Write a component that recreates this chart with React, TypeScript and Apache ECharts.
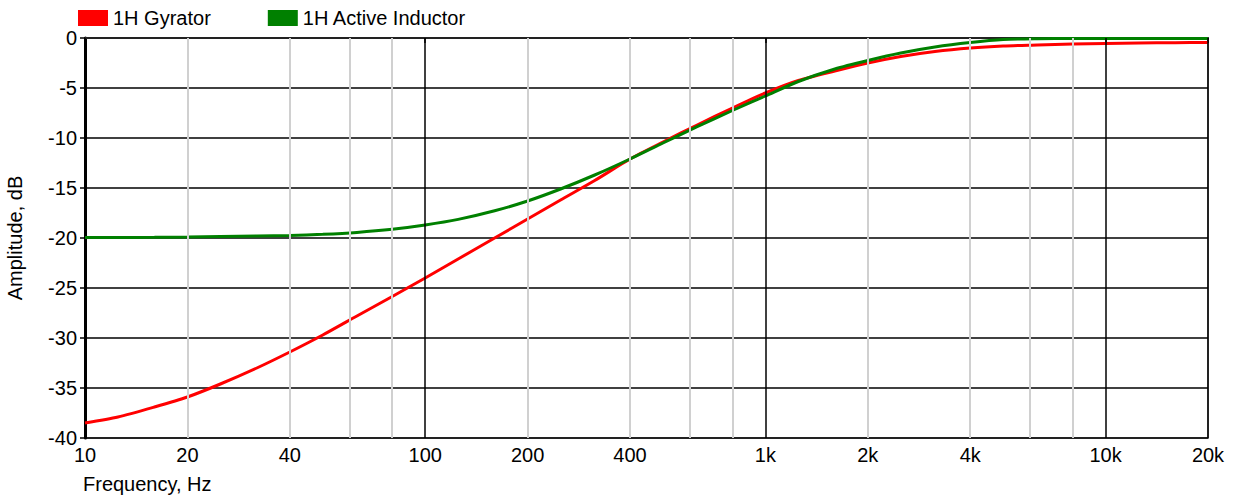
import React, { useEffect, useRef } from "react";
import * as echarts from "echarts";

const FREQ = [10, 12.5, 16, 20, 25, 32, 40, 50, 63, 80, 100, 125, 160, 200, 250, 315, 400, 500, 630, 800, 1000, 1250, 1600, 2000, 2500, 3150, 4000, 5000, 6300, 8000, 10000, 12500, 16000, 20000];
const GYRATOR = [-38.5, -37.9, -36.9, -35.9, -34.6, -33.0, -31.4, -29.7, -27.8, -25.85, -24.0, -22.1, -20.0, -18.1, -16.2, -14.25, -12.1, -10.4, -8.7, -7.0, -5.5, -4.25, -3.3, -2.5, -1.85, -1.35, -1.0, -0.8, -0.7, -0.6, -0.55, -0.5, -0.47, -0.45];
const ACTIVE = [-19.95, -19.95, -19.93, -19.9, -19.85, -19.8, -19.75, -19.63, -19.44, -19.13, -18.7, -18.14, -17.28, -16.3, -15.1, -13.7, -12.1, -10.5, -8.87, -7.25, -5.8, -4.35, -3.1, -2.25, -1.5, -0.9, -0.45, -0.15, -0.07, -0.05, -0.05, -0.05, -0.05, -0.05];
const X_LABELS = [10, 20, 40, 100, 200, 400, 1000, 2000, 4000, 10000, 20000];
const MINOR_GRID = [20, 40, 60, 80, 200, 400, 600, 800, 2000, 4000, 6000, 8000];
const MAJOR_GRID = [100, 1000, 10000, 20000];
const SERIES_NAMES = ["1H Gyrator", "1H Active Inductor"];
const X_NAME = "Frequency, Hz";
const Y_NAME = "Amplitude, dB";

const FONT = "Liberation Sans, Arial, sans-serif";
const FS = 20;

const fmtHz = (v: number) => {
  const f = Math.round(v);
  return f >= 1000 ? f / 1000 + "k" : String(f);
};

export default function App() {
  const ref = useRef<HTMLDivElement>(null);
  useEffect(() => {
    if (!ref.current) return;
    const chart = echarts.init(ref.current, null, { renderer: "svg" });
    const gridLines = [
      ...MINOR_GRID.map((f) => ({ xAxis: f, lineStyle: { color: "#d0d0d0", width: 2, type: "solid" } })),
      ...MAJOR_GRID.map((f) => ({ xAxis: f, lineStyle: { color: "#000", width: 1.5, type: "solid" } })),
    ];
    chart.setOption({
      animation: false,
      textStyle: { fontFamily: FONT },
      legend: {
        data: SERIES_NAMES,
        left: 78,
        top: 8,
        padding: 0,
        icon: "rect",
        itemWidth: 30,
        itemHeight: 16,
        itemGap: 57,
        textStyle: { fontSize: FS, color: "#000", fontFamily: FONT },
      },
      grid: {
        left: 85,
        right: 34,
        top: 38,
        bottom: 59,
        show: true,
        borderColor: "#888",
        borderWidth: 2,
        outerBoundsMode: "none",
      },
      graphic: [
        {
          type: "text",
          left: 83,
          top: 474,
          style: { text: X_NAME, fontSize: FS, fill: "#000", fontFamily: FONT },
        },
      ],
      xAxis: {
        type: "log",
        logBase: 10,
        min: 10,
        max: 20000,
        axisLine: { show: true, lineStyle: { color: "#222", width: 2 } },
        axisTick: { show: true, length: 5, lineStyle: { color: "#000", width: 1.5 }, customValues: X_LABELS },
        axisLabel: {
          customValues: X_LABELS,
          formatter: (v: number) => fmtHz(v),
          fontSize: FS,
          color: "#000",
          fontFamily: FONT,
          margin: 7,
        },
        splitLine: { show: false },
        minorTick: { show: false },
      },
      yAxis: {
        type: "value",
        min: -40,
        max: 0,
        interval: 5,
        name: Y_NAME,
        nameLocation: "middle",
        nameGap: 60,
        nameTextStyle: { fontSize: FS, color: "#000", fontFamily: FONT },
        axisLine: { show: true, lineStyle: { color: "#000", width: 3 } },
        axisTick: { show: true, length: 5, lineStyle: { color: "#000", width: 1.5 } },
        axisLabel: { fontSize: FS, color: "#000", fontFamily: FONT, margin: 8 },
        splitLine: {
          show: true,
          lineStyle: { color: ["#000", "#000", "#000", "#000", "#000", "#000", "#000", "#000", "#888"], width: 1.5 },
        },
      },
      series: [
        {
          name: "grid",
          type: "line",
          data: [],
          z: 1,
          silent: true,
          markLine: { silent: true, symbol: "none", label: { show: false }, data: gridLines, animation: false },
        },
        {
          name: SERIES_NAMES[0],
          type: "line",
          data: FREQ.map((f, i) => [f, GYRATOR[i]]),
          showSymbol: false,
          smooth: 0.25,
          z: 3,
          color: "#ff0000",
          lineStyle: { color: "#ff0000", width: 3 },
        },
        {
          name: SERIES_NAMES[1],
          type: "line",
          data: FREQ.map((f, i) => [f, ACTIVE[i]]),
          showSymbol: false,
          smooth: 0.25,
          z: 4,
          color: "#008000",
          lineStyle: { color: "#008000", width: 3 },
        },
      ],
    });
    return () => chart.dispose();
  }, []);
  return <div ref={ref} style={{ width: 1242, height: 497, position: "absolute", left: 0, top: 0 }} />;
}
